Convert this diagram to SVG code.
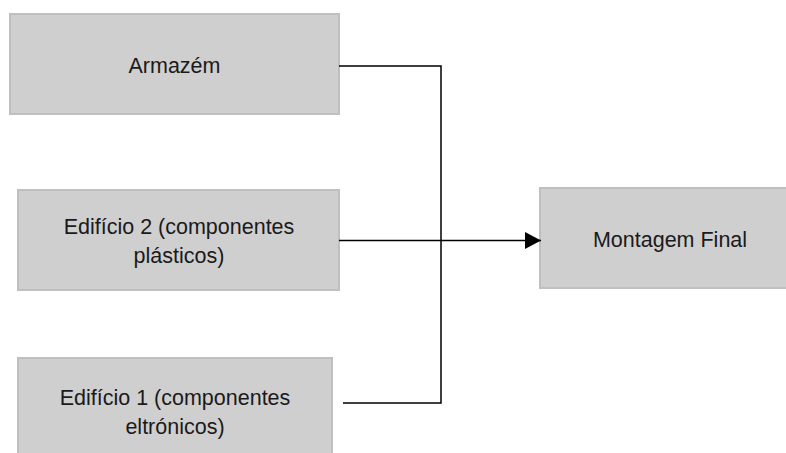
<svg xmlns="http://www.w3.org/2000/svg" width="786" height="453" viewBox="0 0 786 453">
<style>
.box{fill:#d0cfd0;stroke:#bfbfbf;stroke-width:2}
.lbl{font-family:"Liberation Sans",Arial,sans-serif;font-size:21.5px;fill:#1a1a1a;text-anchor:middle}
.con{fill:none;stroke:#000;stroke-width:1.5}
</style>
<defs>
<marker id="arr" markerUnits="userSpaceOnUse" markerWidth="17" markerHeight="17" refX="16" refY="8.5" orient="auto">
<path d="M0,0 L16,8.5 L0,17 Z" fill="#000"/>
</marker>
</defs>
<rect width="786" height="453" fill="#fff"/>
<g id="armazem">
<rect class="box" x="10" y="14" width="329" height="100"/>
<text class="lbl" x="174.5" y="73">Armazém</text>
</g>
<g id="edificio2">
<rect class="box" x="18" y="190" width="321" height="100"/>
<text class="lbl" x="179" y="234">Edifício 2 (componentes</text>
<text class="lbl" x="179" y="263">plásticos)</text>
</g>
<g id="edificio1">
<rect class="box" x="18" y="358" width="314" height="100"/>
<text class="lbl" x="175" y="405">Edifício 1 (componentes</text>
<text class="lbl" x="175" y="434">eltrónicos)</text>
</g>
<g id="montagem">
<rect class="box" x="540" y="188" width="250" height="100"/>
<text class="lbl" x="670" y="247">Montagem Final</text>
</g>
<g id="connectors">
<polyline class="con" points="339,66 441,66 441,403 343,403"/>
<line class="con" x1="339" y1="240.5" x2="541" y2="240.5" marker-end="url(#arr)"/>
</g>
</svg>
